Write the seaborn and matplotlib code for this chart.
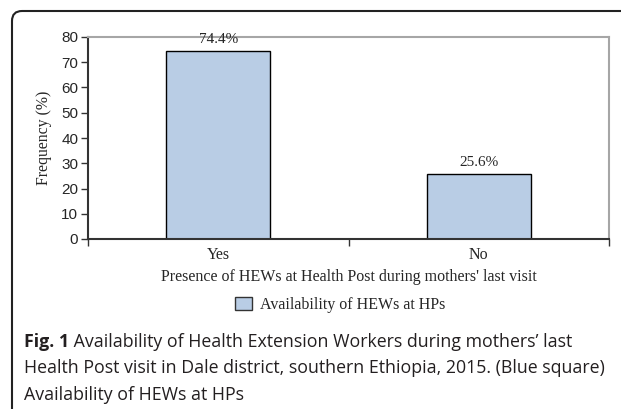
import matplotlib
matplotlib.use("Agg")
import pandas as pd
import seaborn as sns
from matplotlib import pyplot as plt
from matplotlib.patches import FancyBboxPatch, Patch
from matplotlib.transforms import IdentityTransform

# data
categories = ["Yes", "No"]
frequency = [74.4, 25.6]
bar_labels = ["74.4%", "25.6%"]
y_ticks = [0, 10, 20, 30, 40, 50, 60, 70, 80]

W, H = 621, 409
BAR_COLOR = "#b9cde5"
SERIF = ["Liberation Serif", "DejaVu Serif"]
SANS = ["Liberation Sans", "DejaVu Sans"]
SERIF_SIZE = 11.5


def fy(py):
    # pixel row from the top -> figure fraction
    return 1 - py / H


sns.set_style("white")
plt.rcParams["font.family"] = SANS

fig = plt.figure(figsize=(W / 100, H / 100), dpi=100)
ax = fig.add_axes([88 / W, fy(239), (609 - 88) / W, (239 - 37) / H])

df = pd.DataFrame({"answer": categories, "freq": frequency})
sns.barplot(data=df, x="answer", y="freq", color=BAR_COLOR, width=0.4,
            edgecolor="black", linewidth=1.0, saturation=1, ax=ax)

ax.set_ylim(0, 80)
ax.set_xlim(-0.5, 1.5)
ax.set_yticks(y_ticks)
ax.tick_params(axis="y", length=5, width=1, color="#333333", pad=2,
               labelsize=11, left=True)
ax.set_xticks([0, 1])
ax.set_xticklabels(categories, fontfamily=SERIF, fontsize=SERIF_SIZE)
ax.tick_params(axis="x", length=0, pad=6)
ax.set_xticks([-0.5, 0.5, 1.5], minor=True)
ax.tick_params(axis="x", which="minor", length=5, width=1, color="#333333",
               bottom=True)

for side in ["left", "bottom"]:
    ax.spines[side].set_color("#333333")
    ax.spines[side].set_linewidth(1.5)
for side in ["top", "right"]:
    ax.spines[side].set_color("#a6a6a6")
    ax.spines[side].set_linewidth(1.5)

ax.set_ylabel("Frequency (%)", fontfamily=SERIF, fontsize=11.3, labelpad=7)
ax.set_xlabel("Presence of HEWs at Health Post during mothers' last visit",
              fontfamily=SERIF, fontsize=SERIF_SIZE, labelpad=4)

for i, (v, lab) in enumerate(zip(frequency, bar_labels)):
    ax.annotate(lab, xy=(i, v), xytext=(0, 4), textcoords="offset points",
                ha="center", va="bottom", fontfamily=SERIF,
                fontsize=SERIF_SIZE - 0.5, clip_on=False, zorder=5)

handle = Patch(facecolor=BAR_COLOR, edgecolor="#333333", linewidth=1.0)
fig.legend([handle], ["Availability of HEWs at HPs"], loc="center",
           bbox_to_anchor=(340 / W, fy(305)), frameon=False,
           prop={"family": SERIF, "size": SERIF_SIZE}, handlelength=1.1,
           handleheight=0.8, handletextpad=0.5)

# rounded frame around the figure
frame = FancyBboxPatch((12, -30), W + 40, H - 11 + 30,
                       boxstyle="round,pad=0,rounding_size=10",
                       transform=IdentityTransform(), facecolor="none",
                       edgecolor="#222222", linewidth=1.5)
fig.patches.append(frame)

cap_kw = dict(family=["Open Sans", "DejaVu Sans"], fontsize=12.8, color="#231f20")
cap_x = 24 / W
t1 = fig.text(cap_x, fy(347), "Fig. 1", fontweight="bold", va="baseline", **cap_kw)
ax.annotate(" Availability of Health Extension Workers during mothers\u2019 last",
            xy=(1, 0), xycoords=t1, va="bottom", ha="left",
            annotation_clip=False, **cap_kw)
fig.text(cap_x, fy(373), "Health Post visit in Dale district, southern Ethiopia, "
         "2015. (Blue square)", va="baseline", **cap_kw)
fig.text(cap_x, fy(400), "Availability of HEWs at HPs", va="baseline", **cap_kw)

fig.savefig("out.png", dpi=100)
